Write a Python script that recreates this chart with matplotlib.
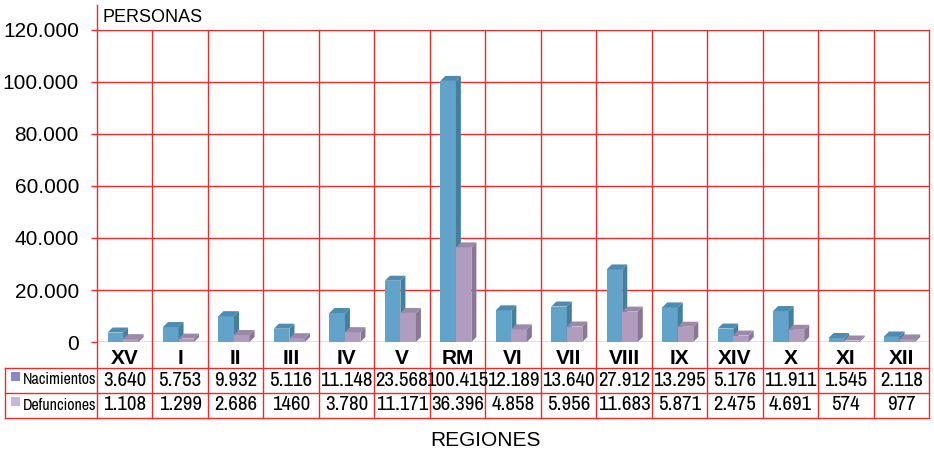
import matplotlib.pyplot as plt
from matplotlib.patches import Polygon, Rectangle

# data
regions = ["XV", "I", "II", "III", "IV", "V", "RM", "VI", "VII", "VIII", "IX", "XIV", "X", "XI", "XII"]
nacimientos = [3640, 5753, 9932, 5116, 11148, 23568, 100415, 12189, 13640, 27912, 13295, 5176, 11911, 1545, 2118]
defunciones = [1108, 1299, 2686, 1460, 3780, 11171, 36396, 4858, 5956, 11683, 5871, 2475, 4691, 574, 977]
nac_text = ["3.640", "5.753", "9.932", "5.116", "11.148", "23.568", "100.415", "12.189", "13.640",
            "27.912", "13.295", "5.176", "11.911", "1.545", "2.118"]
def_text = ["1.108", "1.299", "2.686", "1460", "3.780", "11.171", "36.396", "4.858", "5.956",
            "11.683", "5.871", "2.475", "4.691", "574", "977"]
yticks = [0, 20000, 40000, 60000, 80000, 100000, 120000]
ytick_labels = ["0", "20.000", "40.000", "60.000", "80.000", "100.000", "120.000"]

narrow = ["Archivo Narrow", "Liberation Sans"]

RED = "#ee2a2a"
BLUE = ("#62a4c9", "#4d8cb0", "#43809f")     # front, top, side
PURPLE = ("#b09cbd", "#9c88a8", "#8a7795")

W, H = 934, 453
L, R, T, B = 97, 929, 30, 342
n = len(regions)
unit = (R - L) / n

fig = plt.figure(figsize=(W / 100, H / 100), dpi=100)

# overlay in category units (x) and pixels (y) for the table part
ov = fig.add_axes([0, 0, 1, 1], zorder=0)
ov.set_xlim(-L / unit, (W - L) / unit)
ov.set_ylim(H, 0)
ov.axis("off")

ax = fig.add_axes([L / W, 1 - B / H, (R - L) / W, (B - T) / H], zorder=1)
ax.patch.set_alpha(0)
ax.set_xlim(0, n)
ax.set_ylim(0, 120000)
for s in ax.spines.values():
    s.set_visible(False)
ax.set_xticks([])
ax.set_yticks(yticks)
ax.set_yticklabels(ytick_labels, fontsize=15, family="Liberation Sans")
ax.tick_params(axis="y", color=RED, length=4, width=1, pad=9)
ax.yaxis.grid(True, color=RED, lw=1)
ax.set_axisbelow(True)

# 3d-looking bars
dx = 5 / unit
dy = 5 * 120000 / (B - T)


def bar3d(x0, x1, h, cols):
    front, top, side = cols
    ax.add_patch(Rectangle((x0, 0), x1 - x0, h, fc=front, ec="none", zorder=3))
    ax.add_patch(Polygon([(x1, 0), (x1 + dx, dy), (x1 + dx, h + dy), (x1, h)],
                         closed=True, fc=side, ec="none", zorder=3))
    ax.add_patch(Polygon([(x0, h), (x0 + dx, h + dy), (x1 + dx, h + dy), (x1, h)],
                         closed=True, fc=top, ec="none", zorder=3))


for i in range(n):
    bar3d(i + 0.19, i + 0.47, nacimientos[i], BLUE)
    bar3d(i + 0.47, i + 0.75, defunciones[i], PURPLE)

# grid / table lines
left_px = (5 - L) / unit
for i in range(1, n + 1):
    ov.plot([i, i], [T, 418], color=RED, lw=1)
ov.plot([0, 0], [5, 418], color=RED, lw=1)
ov.plot([left_px, left_px], [368, 418], color=RED, lw=1)
for yy in [368, 393, 418]:
    ov.plot([left_px, n], [yy, yy], color=RED, lw=1)

# table text
for i in range(n):
    ov.text(i + 0.5, 358, regions[i], ha="center", va="center", fontsize=15,
            fontweight="bold", family="Liberation Sans")
    ov.text(i + 0.5, 380, nac_text[i], ha="center", va="center", fontsize=15, family=narrow)
    ov.text(i + 0.5, 405, def_text[i], ha="center", va="center", fontsize=15, family=narrow)

ov.add_patch(Rectangle(((11 - L) / unit, 372), 9 / unit, 9, fc="#8a88c8", ec="none"))
ov.add_patch(Rectangle(((11 - L) / unit, 397), 9 / unit, 9, fc="#c8b4dc", ec="none"))
ov.text((23 - L) / unit, 380, "Nacimientos", ha="left", va="center", fontsize=11.5, family=narrow)
ov.text((23 - L) / unit, 405, "Defunciones", ha="left", va="center", fontsize=11.5, family=narrow)

ov.text((102 - L) / unit, 17, "PERSONAS", ha="left", va="center", fontsize=13, family="Liberation Sans")
ov.text((485 - L) / unit, 440, "REGIONES", ha="center", va="center", fontsize=15, family="Liberation Sans")

fig.savefig("out.png", dpi=100)
